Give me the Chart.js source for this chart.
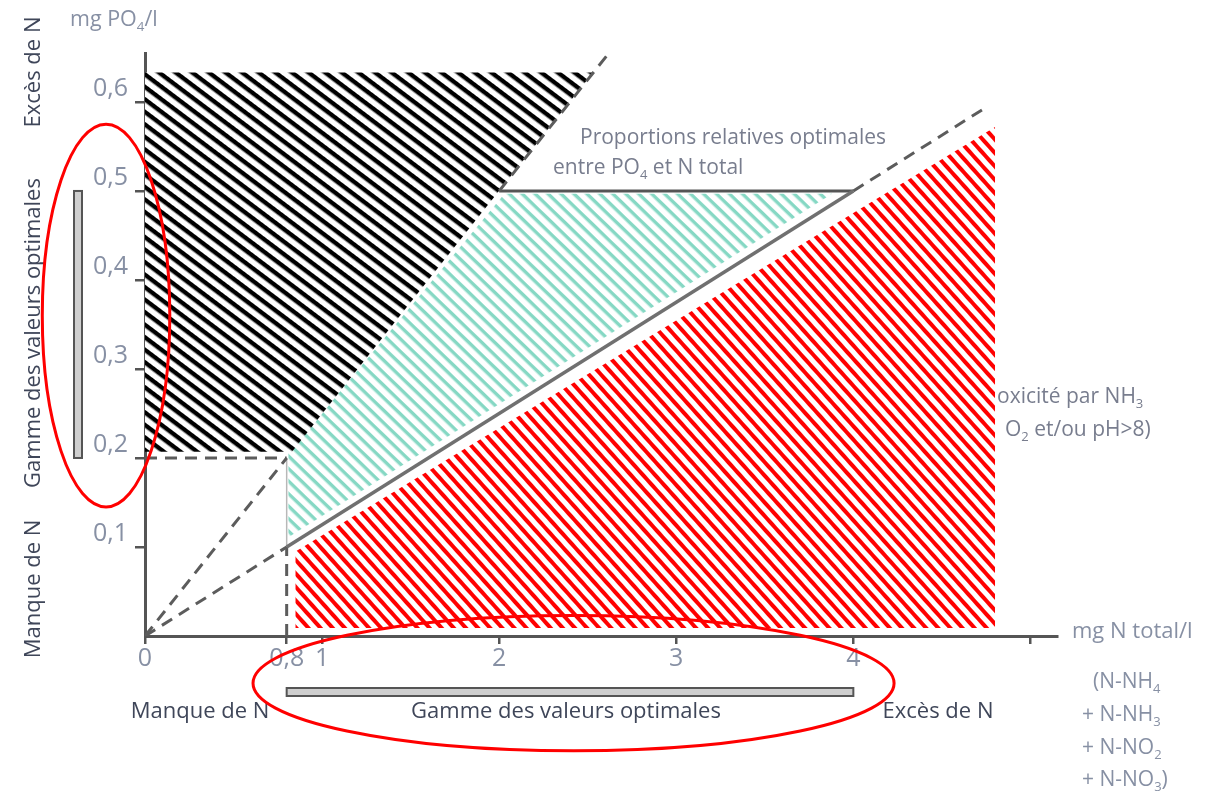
<!DOCTYPE html>
<html lang="fr">
<head>
<meta charset="utf-8">
<title>Rapport PO4 / N total</title>
<script src="https://cdn.jsdelivr.net/npm/chart.js@4/dist/chart.umd.min.js"></script>
<style>
  html, body { margin: 0; padding: 0; background: #fff; }
  #wrap { width: 1232px; height: 801px; }
</style>
</head>
<body>
<div id="wrap"><canvas id="c" width="1232" height="801"></canvas></div>
<script>
// ---------- Axis ticks ----------
const xTickValues = [0, 0.8, 1, 2, 3, 4, 5];
const xTickLabels = ['0', '0,8', '1', '2', '3', '4', ''];
const yTickValues = [0.1, 0.2, 0.3, 0.4, 0.5, 0.6];
const yTickLabels = ['0,1', '0,2', '0,3', '0,4', '0,5', '0,6'];

// ---------- Zones (x: mg N total/l, y: mg PO4/l) ----------
const zoneExcessX  = [0, 0.83, 2.53, 0];
const zoneExcessY  = [0.207, 0.207, 0.633, 0.633];
const zoneOptimalX = [0.81, 0.81, 2.03, 3.88];
const zoneOptimalY = [0.111, 0.205, 0.497, 0.497];
const zoneToxicX   = [0.85, 0.85, 4.8, 4.8];
const zoneToxicY   = [0.009, 0.095, 0.572, 0.009];

// ---------- Ratio lines ----------
// PO4 : N = 1 : 4
const ratio4LowX  = [0, 0.8];   const ratio4LowY  = [0, 0.2];
const ratio4HighX = [2, 2.62];  const ratio4HighY = [0.5, 0.655];
// PO4 : N = 1 : 8
const ratio8LowX  = [0, 0.8];   const ratio8LowY  = [0, 0.1];
const ratio8MidX  = [0.8, 4];   const ratio8MidY  = [0.1, 0.5];
const ratio8HighX = [4, 4.75];  const ratio8HighY = [0.5, 0.594];
// optimal proportions plateau
const plateauX = [2, 4];        const plateauY = [0.5, 0.5];
// guides toward the optimal-range corner
const guideHX = [0, 0.8];       const guideHY = [0.2, 0.2];
const guideVX = [0.8, 0.8];     const guideVY = [0, 0.1];
const edgeX   = [0.8, 0.8];     const edgeY   = [0.1, 0.2];
// optimal value ranges
const optRangeN = [0.8, 4];
const optRangeP = [0.2, 0.5];

// ---------- Texts ----------
const FONT = '"Open Sans", Lato, sans-serif';
const C_LIGHT = '#8790a4';
const C_MID = '#787d8e';
const C_DARK = '#3f4659';

const texts = [
  { t: 'mg PO_4/l', x: 70, y: 20, size: 21.5, color: C_LIGHT, align: 'left' },
  { t: 'mg N total/l', x: 1072, y: 632, size: 22, color: C_LIGHT, align: 'left' },
  { t: '(N-NH_4', x: 1093, y: 682, size: 21, color: C_LIGHT, align: 'left' },
  { t: '+ N-NH_3', x: 1082, y: 715, size: 21, color: C_LIGHT, align: 'left' },
  { t: '+ N-NO_2', x: 1082, y: 748, size: 21, color: C_LIGHT, align: 'left' },
  { t: '+ N-NO_3)', x: 1082, y: 780, size: 21, color: C_LIGHT, align: 'left' },
  { t: 'Proportions relatives optimales', x: 580, y: 138, size: 21, color: C_MID, align: 'left' },
  { t: 'entre PO_4 et N total', x: 553, y: 168, size: 21, color: C_MID, align: 'left' },
  { t: 'oxicité par NH_3', x: 997, y: 397, size: 21, color: C_MID, align: 'left' },
  { t: 'O_2 et/ou pH>8)', x: 1005, y: 430, size: 21, color: C_MID, align: 'left' },
  { t: 'Manque de N', x: 200, y: 712, size: 22, color: C_DARK, align: 'center' },
  { t: 'Gamme des valeurs optimales', x: 566, y: 712, size: 22, color: C_DARK, align: 'center' },
  { t: 'Excès de N', x: 938, y: 712, size: 22, color: C_DARK, align: 'center' },
  { t: 'Excès de N', x: 34, y: 72, size: 22, color: C_DARK, align: 'center', rotate: true },
  { t: 'Gamme des valeurs optimales', x: 34, y: 333, size: 22, color: C_DARK, align: 'center', rotate: true },
  { t: 'Manque de N', x: 34, y: 589, size: 22, color: C_DARK, align: 'center', rotate: true }
];

// highlight rings, in axis units
const rings = [
  { cx: -0.22, cy: 0.36, rx: 0.36, ry: 0.215 },
  { cx: 2.42, cy: -0.053, rx: 1.81, ry: 0.076 }
];

// ---------- Helpers ----------
const pts = (xs, ys) => xs.map((x, i) => ({ x, y: ys[i] }));

function hatch(color, period, thick, angle) {
  const t = document.createElement('canvas');
  t.width = 8; t.height = period;
  const g = t.getContext('2d');
  g.fillStyle = '#fff';
  g.fillRect(0, 0, t.width, t.height);
  g.fillStyle = color;
  g.fillRect(0, 0, t.width, thick);
  const p = g.createPattern(t, 'repeat');
  p.setTransform(new DOMMatrix().rotate(angle));
  return p;
}

function zone(xs, ys, pattern) {
  return {
    data: pts(xs, ys), showLine: true, fill: 'shape',
    backgroundColor: pattern, borderColor: 'rgba(0,0,0,0)', borderWidth: 0,
    pointRadius: 0, order: 5
  };
}

function line(xs, ys, color, width, dash) {
  return {
    data: pts(xs, ys), showLine: true, fill: false,
    borderColor: color, borderWidth: width, borderDash: dash || [],
    borderCapStyle: 'butt', pointRadius: 0, order: 1
  };
}

function drawRich(ctx, item) {
  const segs = [];
  const s = item.t;
  for (let i = 0; i < s.length; i++) {
    if (s[i] === '_' && i + 1 < s.length) { segs.push({ t: s[i + 1], sub: true }); i++; }
    else if (segs.length && !segs[segs.length - 1].sub) segs[segs.length - 1].t += s[i];
    else segs.push({ t: s[i], sub: false });
  }
  const font = sz => `400 ${sz}px ${FONT}`;
  let w = 0;
  for (const g of segs) { ctx.font = font(g.sub ? item.size * 0.62 : item.size); g.w = ctx.measureText(g.t).width; w += g.w; }
  ctx.save();
  ctx.translate(item.x, item.y);
  if (item.rotate) ctx.rotate(-Math.PI / 2);
  let cx = item.align === 'center' ? -w / 2 : item.align === 'right' ? -w : 0;
  ctx.fillStyle = item.color;
  ctx.textBaseline = 'middle';
  ctx.textAlign = 'left';
  for (const g of segs) {
    ctx.font = font(g.sub ? item.size * 0.62 : item.size);
    ctx.fillText(g.t, cx, g.sub ? item.size * 0.33 : 0);
    cx += g.w;
  }
  ctx.restore();
}

const decor = {
  id: 'decor',
  beforeDatasetsDraw(chart) {
    const ctx = chart.ctx;
    texts.forEach(t => drawRich(ctx, t));
  },
  afterDraw(chart) {
    const ctx = chart.ctx;
    const xs = chart.scales.x, ys = chart.scales.y;
    // optimal range bars
    ctx.save();
    ctx.fillStyle = '#cfcfcf';
    ctx.strokeStyle = '#555';
    ctx.lineWidth = 2;
    const yTop = ys.getPixelForValue(optRangeP[1]);
    const yBot = ys.getPixelForValue(optRangeP[0]);
    ctx.fillRect(74, yTop, 8, yBot - yTop);
    ctx.strokeRect(74, yTop, 8, yBot - yTop);
    const xL = xs.getPixelForValue(optRangeN[0]);
    const xR = xs.getPixelForValue(optRangeN[1]);
    ctx.fillRect(xL, 688, xR - xL, 8);
    ctx.strokeRect(xL, 688, xR - xL, 8);
    // highlight rings
    ctx.strokeStyle = '#ff0000';
    ctx.lineWidth = 3;
    rings.forEach(r => {
      const cx = xs.getPixelForValue(r.cx), cy = ys.getPixelForValue(r.cy);
      const rx = Math.abs(xs.getPixelForValue(r.cx + r.rx) - cx);
      const ry = Math.abs(ys.getPixelForValue(r.cy + r.ry) - cy);
      ctx.beginPath();
      ctx.ellipse(cx, cy, rx, ry, 0, 0, Math.PI * 2);
      ctx.stroke();
    });
    ctx.restore();
  }
};

// ---------- Chart ----------
const patBlack = hatch('#000000', 10, 4.4, 37);
const patTeal  = hatch('#86d8c4', 9, 3.4, 44);
const patRed   = hatch('#ff0000', 9, 4.0, 48);
const DASH = [12, 8];
const GREY = '#5c5c5c';

new Chart(document.getElementById('c'), {
  type: 'scatter',
  data: {
    datasets: [
      line(ratio4LowX, ratio4LowY, GREY, 3, DASH),
      line(ratio4HighX, ratio4HighY, GREY, 3, DASH),
      line(ratio8LowX, ratio8LowY, GREY, 3, DASH),
      line(ratio8MidX, ratio8MidY, '#707070', 3.5),
      line(ratio8HighX, ratio8HighY, GREY, 3, DASH),
      line(plateauX, plateauY, '#555555', 3),
      line(guideHX, guideHY, GREY, 3, DASH),
      line(guideVX, guideVY, GREY, 3, DASH),
      line(edgeX, edgeY, '#b8b8b8', 1.5),
      zone(zoneExcessX, zoneExcessY, patBlack),
      zone(zoneOptimalX, zoneOptimalY, patTeal),
      zone(zoneToxicX, zoneToxicY, patRed)
    ]
  },
  options: {
    responsive: false,
    animation: false,
    devicePixelRatio: 1,
    layout: { padding: { left: 85, right: 175, top: 53, bottom: 125 } },
    plugins: { legend: { display: false }, tooltip: { enabled: false } },
    scales: {
      x: {
        type: 'linear', min: 0, max: 5.15,
        afterBuildTicks: s => { s.ticks = xTickValues.map(v => ({ value: v })); },
        afterFit: s => { s.height = 40; },
        ticks: {
          callback: v => xTickLabels[xTickValues.indexOf(v)],
          color: C_LIGHT, font: { family: FONT, size: 25 },
          padding: 0, maxRotation: 0, autoSkip: false
        },
        grid: { display: true, drawOnChartArea: false, drawTicks: true, tickLength: 8, color: '#555', lineWidth: 2.5 },
        border: { display: true, color: '#555', width: 3 }
      },
      y: {
        type: 'linear', min: 0, max: 0.655,
        afterBuildTicks: s => { s.ticks = yTickValues.map(v => ({ value: v })); },
        afterFit: s => { s.width = 60; },
        ticks: {
          callback: v => yTickLabels[yTickValues.indexOf(v)],
          color: C_LIGHT, font: { family: FONT, size: 25 },
          padding: 7, labelOffset: -13, autoSkip: false
        },
        grid: { display: true, drawOnChartArea: false, drawTicks: true, tickLength: 10, color: '#555', lineWidth: 2.5 },
        border: { display: true, color: '#555', width: 3 }
      }
    }
  },
  plugins: [decor]
});
</script>
</body>
</html>
